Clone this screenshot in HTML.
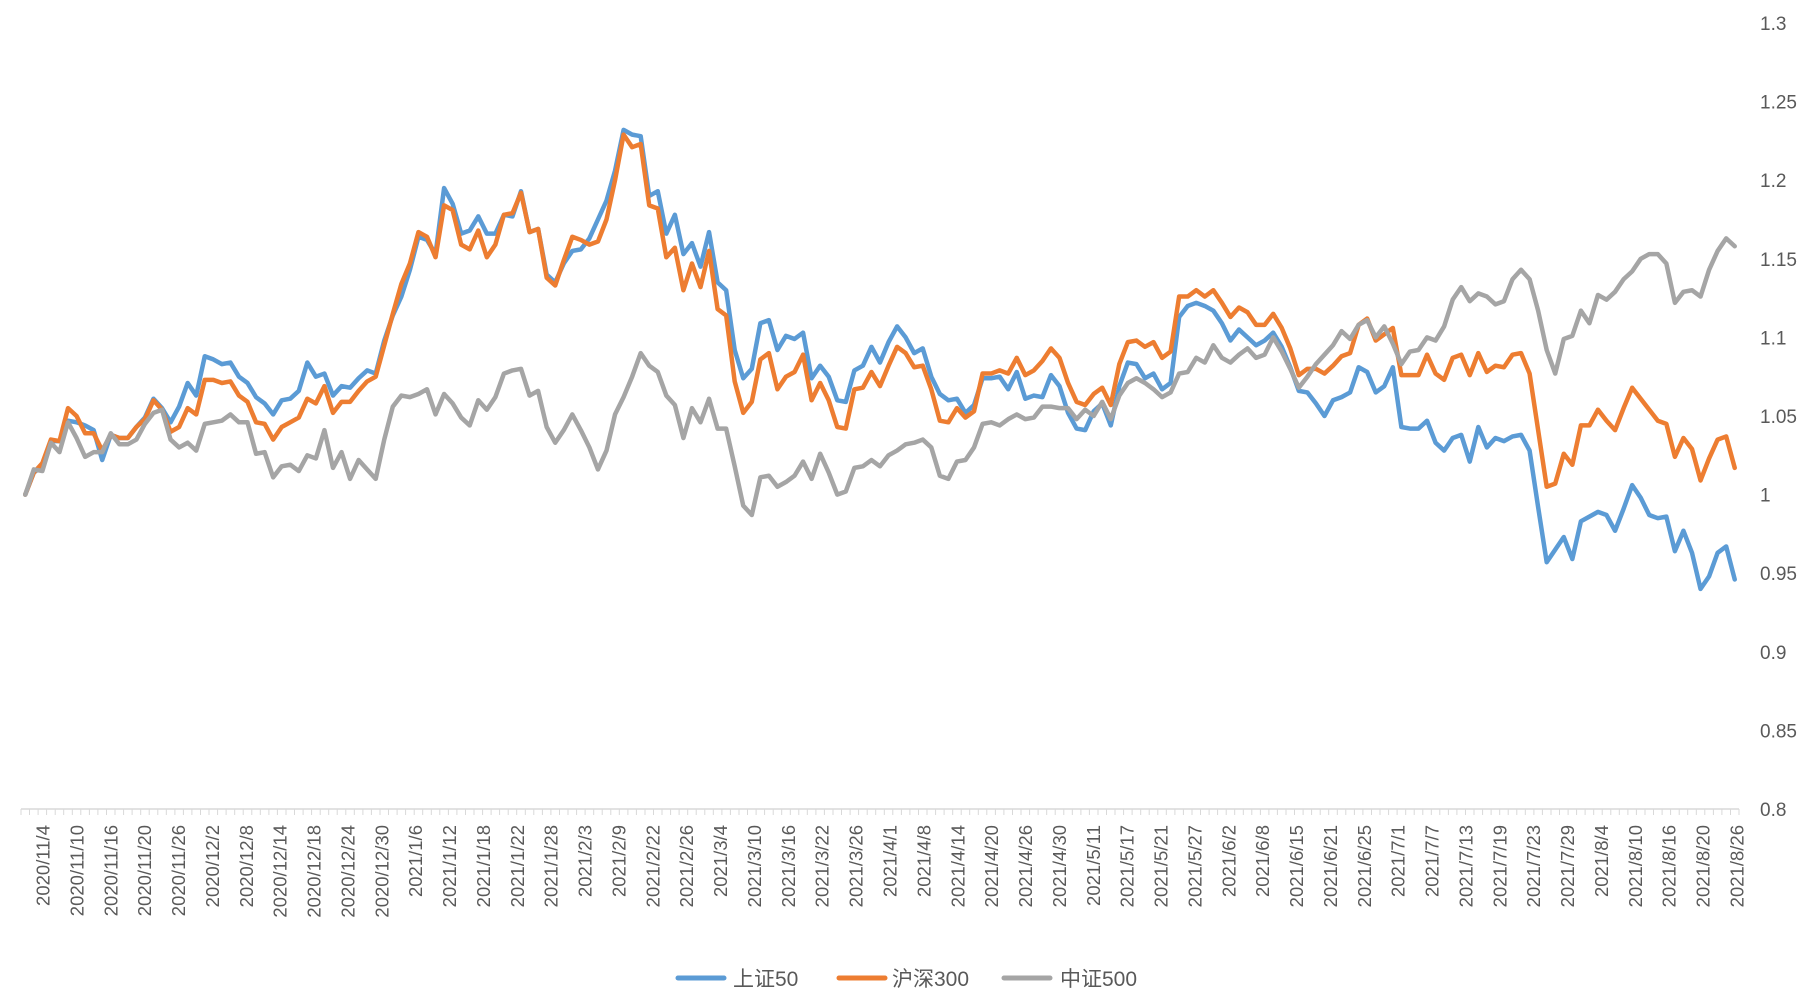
<!DOCTYPE html>
<html><head><meta charset="utf-8">
<style>
html,body{margin:0;padding:0;background:#fff;}
svg{display:block;font-family:"Liberation Sans","Noto Sans CJK SC",sans-serif;}
</style></head>
<body>
<svg id="chart" width="1813" height="1000" viewBox="0 0 1813 1000" xmlns="http://www.w3.org/2000/svg">
<g id="plot"></g>
<g id="xaxis"></g>
<g id="yaxis"></g>
<g id="legend">
  <line x1="678" y1="978" x2="724" y2="978" stroke="#5b9bd5" stroke-width="5" stroke-linecap="round"/>
  <text x="733" y="986" font-size="21" fill="#595959">上证50</text>
  <line x1="839" y1="978" x2="885" y2="978" stroke="#ed7d31" stroke-width="5" stroke-linecap="round"/>
  <text x="892" y="986" font-size="21" fill="#595959">沪深300</text>
  <line x1="1004" y1="978" x2="1050" y2="978" stroke="#a5a5a5" stroke-width="5" stroke-linecap="round"/>
  <text x="1060" y="986" font-size="21" fill="#595959">中证500</text>
</g>
</svg>
<script>
const holidays = ["2021-01-01","2021-02-11","2021-02-12","2021-02-15","2021-02-16","2021-02-17","2021-04-05","2021-05-03","2021-05-04","2021-05-05","2021-06-14"];
const yTicks = [0.8,0.85,0.9,0.95,1,1.05,1.1,1.15,1.2,1.25,1.3];
const yTickLabels = ["0.8","0.85","0.9","0.95","1","1.05","1.1","1.15","1.2","1.25","1.3"];
const sz50 = [1.000,1.014,1.018,1.034,1.034,1.047,1.046,1.044,1.041,1.022,1.038,1.036,1.036,1.043,1.049,1.061,1.055,1.046,1.056,1.071,1.063,1.088,1.086,1.083,1.084,1.075,1.071,1.062,1.058,1.051,1.060,1.061,1.066,1.084,1.075,1.077,1.063,1.069,1.068,1.074,1.079,1.077,1.098,
1.114,1.126,1.143,1.164,1.162,1.153,1.195,1.185,1.166,1.168,1.177,1.166,1.166,1.178,1.177,1.193,1.167,1.169,1.140,1.135,1.147,1.155,1.156,1.163,1.175,1.187,1.206,1.232,1.229,1.228,1.190,1.193,1.166,1.178,1.153,1.160,1.145,1.167,1.135,1.130,
1.092,1.074,1.080,1.109,1.111,1.092,1.101,1.099,1.103,1.074,1.082,1.075,1.060,1.059,1.079,1.082,1.094,1.084,1.097,1.107,1.100,1.090,1.093,1.075,1.064,1.060,1.061,1.052,1.057,1.074,1.074,1.075,1.067,1.078,1.061,1.063,1.062,1.076,1.069,1.052,
1.042,1.041,1.053,1.058,1.044,1.069,1.084,1.083,1.074,1.077,1.067,1.071,1.113,1.120,1.122,1.120,1.117,1.109,1.098,1.105,1.100,1.095,1.098,1.103,1.094,1.081,1.066,1.065,1.058,1.050,1.060,1.062,1.065,1.081,1.078,1.065,1.069,1.081,
1.043,1.042,1.042,1.047,1.033,1.028,1.036,1.038,1.021,1.043,1.030,1.036,1.034,1.037,1.038,1.028,0.992,0.957,0.965,0.973,0.959,0.983,0.986,0.989,0.987,0.977,0.991,1.006,0.998,0.987,0.985,0.986,0.964,0.977,0.963,0.940,0.948,0.963,0.967,0.946];
const hs300 = [1.000,1.014,1.020,1.035,1.034,1.055,1.050,1.039,1.039,1.028,1.038,1.036,1.036,1.043,1.048,1.060,1.054,1.040,1.043,1.055,1.051,1.073,1.073,1.071,1.072,1.063,1.059,1.046,1.045,1.035,1.043,1.046,1.049,1.061,1.058,1.069,1.052,1.059,1.059,1.066,1.072,1.075,1.095,
1.115,1.134,1.147,1.167,1.164,1.151,1.184,1.181,1.159,1.156,1.168,1.151,1.159,1.178,1.179,1.192,1.167,1.169,1.138,1.133,1.149,1.164,1.162,1.159,1.161,1.175,1.200,1.229,1.221,1.223,1.184,1.182,1.151,1.157,1.130,1.147,1.132,1.155,1.118,1.114,
1.072,1.052,1.059,1.086,1.090,1.067,1.075,1.078,1.089,1.060,1.071,1.060,1.043,1.042,1.067,1.068,1.078,1.069,1.082,1.094,1.090,1.081,1.082,1.067,1.047,1.046,1.055,1.049,1.053,1.077,1.077,1.079,1.077,1.087,1.076,1.079,1.085,1.093,1.087,1.071,
1.059,1.057,1.064,1.068,1.057,1.083,1.097,1.098,1.094,1.097,1.087,1.091,1.126,1.126,1.130,1.126,1.130,1.122,1.113,1.119,1.116,1.108,1.108,1.115,1.106,1.093,1.076,1.080,1.080,1.077,1.082,1.088,1.090,1.108,1.112,1.098,1.102,1.106,
1.076,1.076,1.076,1.089,1.077,1.073,1.087,1.089,1.076,1.090,1.078,1.082,1.081,1.089,1.090,1.077,1.041,1.005,1.007,1.026,1.019,1.044,1.044,1.054,1.047,1.041,1.055,1.068,1.061,1.054,1.047,1.045,1.024,1.036,1.029,1.009,1.023,1.035,1.037,1.017];
const zz500 = [1.000,1.016,1.015,1.033,1.027,1.046,1.036,1.024,1.027,1.027,1.039,1.032,1.032,1.035,1.045,1.052,1.054,1.035,1.030,1.033,1.028,1.045,1.046,1.047,1.051,1.046,1.046,1.026,1.027,1.011,1.018,1.019,1.015,1.025,1.023,1.041,1.017,1.027,1.010,1.022,1.016,1.010,
1.035,1.056,1.063,1.062,1.064,1.067,1.051,1.064,1.058,1.049,1.044,1.060,1.054,1.062,1.077,1.079,1.080,1.063,1.066,1.043,1.033,1.041,1.051,1.041,1.030,1.016,1.028,1.051,1.062,1.075,1.090,1.082,1.078,1.063,1.057,1.036,1.055,1.046,1.061,1.042,1.042,
1.018,0.993,0.987,1.011,1.012,1.005,1.008,1.012,1.021,1.010,1.026,1.014,1.000,1.002,1.017,1.018,1.022,1.018,1.025,1.028,1.032,1.033,1.035,1.030,1.012,1.010,1.021,1.022,1.030,1.045,1.046,1.044,1.048,1.051,1.048,1.049,1.056,1.056,1.055,1.055,
1.048,1.054,1.050,1.059,1.048,1.063,1.071,1.074,1.071,1.067,1.062,1.065,1.077,1.078,1.087,1.084,1.095,1.087,1.084,1.089,1.093,1.087,1.089,1.100,1.091,1.080,1.068,1.075,1.083,1.089,1.095,1.104,1.099,1.108,1.111,1.100,1.107,1.096,
1.083,1.091,1.092,1.100,1.098,1.107,1.124,1.132,1.123,1.128,1.126,1.121,1.123,1.137,1.143,1.137,1.117,1.092,1.077,1.099,1.101,1.117,1.109,1.127,1.124,1.129,1.137,1.142,1.150,1.153,1.153,1.147,1.122,1.129,1.130,1.126,1.143,1.155,1.163,1.158];

// categories: trading days 2020/11/4 - 2021/8/26
const categories = [];
(function(){
  let d = new Date(Date.UTC(2020,10,4));
  const end = new Date(Date.UTC(2021,7,26));
  while (d <= end) {
    const wd = d.getUTCDay();
    const iso = d.toISOString().slice(0,10);
    if (wd !== 0 && wd !== 6 && holidays.indexOf(iso) < 0) {
      categories.push(d.getUTCFullYear() + "/" + (d.getUTCMonth()+1) + "/" + d.getUTCDate());
    }
    d = new Date(d.getTime() + 86400000);
  }
})();

const NS = "http://www.w3.org/2000/svg";
const plotL = 21, plotR = 1739, yTop = 23, yBot = 809;
const n = categories.length;
const catW = (plotR - plotL) / n;
function xPos(i){ return plotL + catW * (i + 0.5); }
function yPos(v){ return yBot - (v - 0.8) / 0.5 * (yBot - yTop); }
function labelX(i){ return 43 + (1737 - 43) * i / (n - 1); }

const plot = document.getElementById('plot');
const xaxis = document.getElementById('xaxis');
const yaxis = document.getElementById('yaxis');

// axis line
const axisLine = document.createElementNS(NS,'line');


axisLine.setAttribute('x1', plotL); axisLine.setAttribute('x2', plotR);
axisLine.setAttribute('y1', yBot); axisLine.setAttribute('y2', yBot);
axisLine.setAttribute('stroke', '#d9d9d9'); axisLine.setAttribute('stroke-width', '1.5');
xaxis.appendChild(axisLine);

// tick marks
let tickD = "";
for (let i = 0; i <= n; i++) {
  const x = (plotL + catW * i).toFixed(1);
  tickD += "M" + x + " " + yBot + "V" + (yBot + 6);
}
const ticks = document.createElementNS(NS,'path');


ticks.setAttribute('d', tickD);
ticks.setAttribute('stroke', '#d9d9d9'); ticks.setAttribute('stroke-width', '1');
xaxis.appendChild(ticks);

// x labels
for (let i = 0; i < n; i += 4) {
  const t = document.createElementNS(NS,'text');
  
  
  const x = labelX(i), y = 825;
  t.setAttribute('x', x); t.setAttribute('y', y);
  t.setAttribute('transform', 'rotate(-90 ' + x + ' ' + y + ')');
  t.setAttribute('text-anchor', 'end');
  t.setAttribute('dominant-baseline', 'central');
  t.setAttribute('font-size', '18.5');
  t.setAttribute('fill', '#595959');
  t.textContent = categories[i];
  xaxis.appendChild(t);
}

// y labels
for (let k = 0; k < yTicks.length; k++) {
  const t = document.createElementNS(NS,'text');
  
  
  t.setAttribute('x', 1760);
  t.setAttribute('y', yPos(yTicks[k]) + 7);
  t.setAttribute('font-size', '19');
  t.setAttribute('fill', '#595959');
  t.textContent = yTickLabels[k];
  yaxis.appendChild(t);
}

function drawSeries(vals, color, name){
  let d = "";
  for (let i = 0; i < vals.length; i++) {
    d += (i ? "L" : "M") + xPos(i).toFixed(2) + " " + yPos(vals[i]).toFixed(2);
  }
  const p = document.createElementNS(NS,'path');
  
  
  p.setAttribute('d', d);
  p.setAttribute('fill', 'none');
  p.setAttribute('stroke', color);
  p.setAttribute('stroke-width', '4.5');
  p.setAttribute('stroke-linejoin', 'round');
  p.setAttribute('stroke-linecap', 'round');
  plot.appendChild(p);
}
drawSeries(sz50, '#5b9bd5', 'series-sz50-line');
drawSeries(hs300, '#ed7d31', 'series-hs300-line');
drawSeries(zz500, '#a5a5a5', 'series-zz500-line');
</script>
</body></html>
